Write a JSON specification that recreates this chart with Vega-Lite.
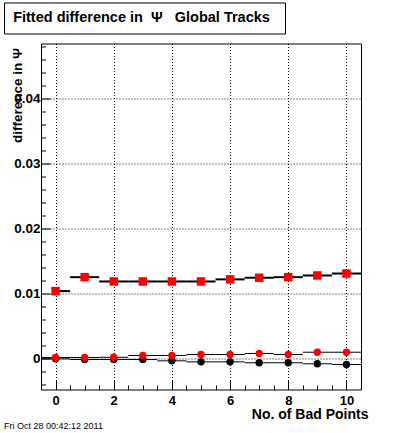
{
  "$schema": "https://vega.github.io/schema/vega-lite/v6.json",
  "padding": {"left": 3, "top": 1.5, "right": 0, "bottom": 0},
  "background": "white",
  "spacing": 10,
  "bounds": "flush",
  "config": {
    "font": "Liberation Sans",
    "view": {"stroke": "black", "strokeWidth": 1, "fill": "white"}
  },
  "vconcat": [
    {
      "width": 281,
      "height": 31,
      "data": {"values": [{"label": "Fitted difference in\u00a0\u00a0Ψ\u00a0\u00a0\u00a0Global Tracks", "px": 0.5, "py": 0.5}]},
      "mark": {"type": "text", "font": "Liberation Sans", "fontWeight": "bold", "fontSize": 14.5, "color": "black", "dx": -3},
      "encoding": {
        "text": {"field": "label", "type": "nominal"},
        "x": {"field": "px", "type": "quantitative", "scale": {"domain": [0, 1]}, "axis": null},
        "y": {"field": "py", "type": "quantitative", "scale": {"domain": [0, 1]}, "axis": null}
      }
    },
    {
      "spacing": -2,
      "hconcat": [
        {
          "width": 1,
          "height": 1,
          "view": {"stroke": null, "fill": null},
          "data": {"values": []},
          "mark": {"type": "point", "opacity": 0}
        },
        {
          "width": 320,
          "height": 346,
          "title": {
            "text": "Fri Oct 28 00:42:12 2011",
            "orient": "bottom",
            "anchor": "start",
            "frame": "bounds",
            "fontSize": 9,
            "fontWeight": "normal",
            "font": "Liberation Sans",
            "color": "black",
            "offset": 0,
            "dx": -6
          },
          "data": {
            "values": [
              {"points": 0, "lo": 0, "hi": 0.5, "series": "squares", "diff": 0.0104},
              {"points": 1, "lo": 0.5, "hi": 1.5, "series": "squares", "diff": 0.01254},
              {"points": 2, "lo": 1.5, "hi": 2.5, "series": "squares", "diff": 0.01188},
              {"points": 3, "lo": 2.5, "hi": 3.5, "series": "squares", "diff": 0.01188},
              {"points": 4, "lo": 3.5, "hi": 4.5, "series": "squares", "diff": 0.01188},
              {"points": 5, "lo": 4.5, "hi": 5.5, "series": "squares", "diff": 0.01188},
              {"points": 6, "lo": 5.5, "hi": 6.5, "series": "squares", "diff": 0.0122},
              {"points": 7, "lo": 6.5, "hi": 7.5, "series": "squares", "diff": 0.01245},
              {"points": 8, "lo": 7.5, "hi": 8.5, "series": "squares", "diff": 0.01254},
              {"points": 9, "lo": 8.5, "hi": 9.5, "series": "squares", "diff": 0.0128},
              {"points": 10, "lo": 9.5, "hi": 10.5, "series": "squares", "diff": 0.0131},
              {"points": 0, "lo": -0.5, "hi": 0.5, "series": "red", "diff": 0.00021},
              {"points": 1, "lo": 0.5, "hi": 1.5, "series": "red", "diff": 0.00021},
              {"points": 2, "lo": 1.5, "hi": 2.5, "series": "red", "diff": 0.00024},
              {"points": 3, "lo": 2.5, "hi": 3.5, "series": "red", "diff": 0.00052},
              {"points": 4, "lo": 3.5, "hi": 4.5, "series": "red", "diff": 0.00052},
              {"points": 5, "lo": 4.5, "hi": 5.5, "series": "red", "diff": 0.00067},
              {"points": 6, "lo": 5.5, "hi": 6.5, "series": "red", "diff": 0.00067},
              {"points": 7, "lo": 6.5, "hi": 7.5, "series": "red", "diff": 0.00083},
              {"points": 8, "lo": 7.5, "hi": 8.5, "series": "red", "diff": 0.00067},
              {"points": 9, "lo": 8.5, "hi": 9.5, "series": "red", "diff": 0.00102},
              {"points": 10, "lo": 9.5, "hi": 10.5, "series": "red", "diff": 0.00102},
              {"points": 0, "lo": -0.5, "hi": 0.5, "series": "black", "diff": 0.0},
              {"points": 1, "lo": 0.5, "hi": 1.5, "series": "black", "diff": -0.0001},
              {"points": 2, "lo": 1.5, "hi": 2.5, "series": "black", "diff": -0.0001},
              {"points": 3, "lo": 2.5, "hi": 3.5, "series": "black", "diff": -0.0001},
              {"points": 4, "lo": 3.5, "hi": 4.5, "series": "black", "diff": -0.0003},
              {"points": 5, "lo": 4.5, "hi": 5.5, "series": "black", "diff": -0.00046},
              {"points": 6, "lo": 5.5, "hi": 6.5, "series": "black", "diff": -0.00046},
              {"points": 7, "lo": 6.5, "hi": 7.5, "series": "black", "diff": -0.0006},
              {"points": 8, "lo": 7.5, "hi": 8.5, "series": "black", "diff": -0.0006},
              {"points": 9, "lo": 8.5, "hi": 9.5, "series": "black", "diff": -0.00076},
              {"points": 10, "lo": 9.5, "hi": 10.5, "series": "black", "diff": -0.00086}
            ]
          },
          "encoding": {
            "x": {
              "field": "points",
              "type": "quantitative",
              "scale": {"domain": [-0.5, 10.5], "nice": false, "zero": false},
              "axis": {
                "title": "No. of Bad Points",
                "titleFont": "Liberation Sans",
                "titleFontSize": 14,
                "titleFontWeight": "bold",
                "titleColor": "black",
                "titleAlign": "right",
                "titleBaseline": "alphabetic",
                "titleX": 327,
                "titleY": 29,
                "values": [0, 0.5, 1, 1.5, 2, 2.5, 3, 3.5, 4, 4.5, 5, 5.5, 6, 6.5, 7, 7.5, 8, 8.5, 9, 9.5, 10],
                "labelExpr": "datum.value % 2 == 0 ? format(datum.value, 'd') : ''",
                "labelFont": "Liberation Sans",
                "labelFontSize": 13,
                "labelFontWeight": "bold",
                "labelColor": "black",
                "labelPadding": 13.5,
                "labelOverlap": false,
                "labelFlush": false,
                "domain": false,
                "tickColor": "black",
                "tickWidth": 1,
                "tickSize": {"condition": {"test": "datum.value % 2 == 0", "value": -9}, "value": -4.5},
                "grid": true,
                "gridColor": "black",
                "gridDash": [1, 2],
                "gridWidth": 1,
                "gridOpacity": {"condition": {"test": "datum.value % 2 == 0", "value": 1}, "value": 0}
              }
            },
            "y": {
              "field": "diff",
              "type": "quantitative",
              "scale": {"domain": [-0.0047, 0.0484], "nice": false, "zero": false},
              "axis": {
                "title": "difference in Ψ",
                "titleFont": "Liberation Sans",
                "titleFontSize": 13.5,
                "titleFontWeight": "bold",
                "titleColor": "black",
                "titleAngle": -90,
                "titleAlign": "right",
                "titleBaseline": "top",
                "titleX": -31,
                "titleY": 4,
                "values": [-0.004, -0.002, 0, 0.002, 0.004, 0.006, 0.008, 0.01, 0.012, 0.014, 0.016, 0.018, 0.02, 0.022, 0.024, 0.026, 0.028, 0.03, 0.032, 0.034, 0.036, 0.038, 0.04, 0.042, 0.044, 0.046, 0.048],
                "labelExpr": "abs(datum.value * 100 - round(datum.value * 100)) < 1e-6 ? (datum.value == 0 ? '0' : format(datum.value, '.2f')) : ''",
                "labelFont": "Liberation Sans",
                "labelFontSize": 13.5,
                "labelFontWeight": "bold",
                "labelColor": "black",
                "labelPadding": 10,
                "labelOverlap": false,
                "labelFlush": false,
                "domain": false,
                "tickColor": "black",
                "tickWidth": 1,
                "tickSize": {"condition": {"test": "abs(datum.value * 100 - round(datum.value * 100)) < 1e-6", "value": -9}, "value": -4.5},
                "grid": true,
                "gridColor": "black",
                "gridDash": [1, 2],
                "gridWidth": 1,
                "gridOpacity": {"condition": {"test": "abs(datum.value * 100 - round(datum.value * 100)) < 1e-6", "value": 1}, "value": 0}
              }
            }
          },
          "layer": [
            {
              "transform": [{"filter": "datum.series == 'squares'"}],
              "mark": {"type": "rule", "color": "black", "strokeWidth": 2},
              "encoding": {
                "x": {"field": "lo", "type": "quantitative"},
                "x2": {"field": "hi"}
              }
            },
            {
              "transform": [{"filter": "datum.series != 'squares'"}],
              "mark": {"type": "rule", "color": "black", "strokeWidth": 1},
              "encoding": {
                "x": {"field": "lo", "type": "quantitative"},
                "x2": {"field": "hi"}
              }
            },
            {
              "transform": [{"filter": "datum.series == 'black'"}],
              "mark": {"type": "point", "shape": "circle", "filled": true, "color": "black", "opacity": 1, "size": 55}
            },
            {
              "transform": [{"filter": "datum.series == 'red'"}],
              "mark": {"type": "point", "shape": "circle", "filled": true, "color": "#ff0000", "opacity": 1, "size": 55}
            },
            {
              "transform": [{"filter": "datum.series == 'squares'"}],
              "mark": {"type": "point", "shape": "square", "filled": true, "color": "#ff0000", "opacity": 1, "size": 72}
            }
          ]
        }
      ]
    }
  ]
}
